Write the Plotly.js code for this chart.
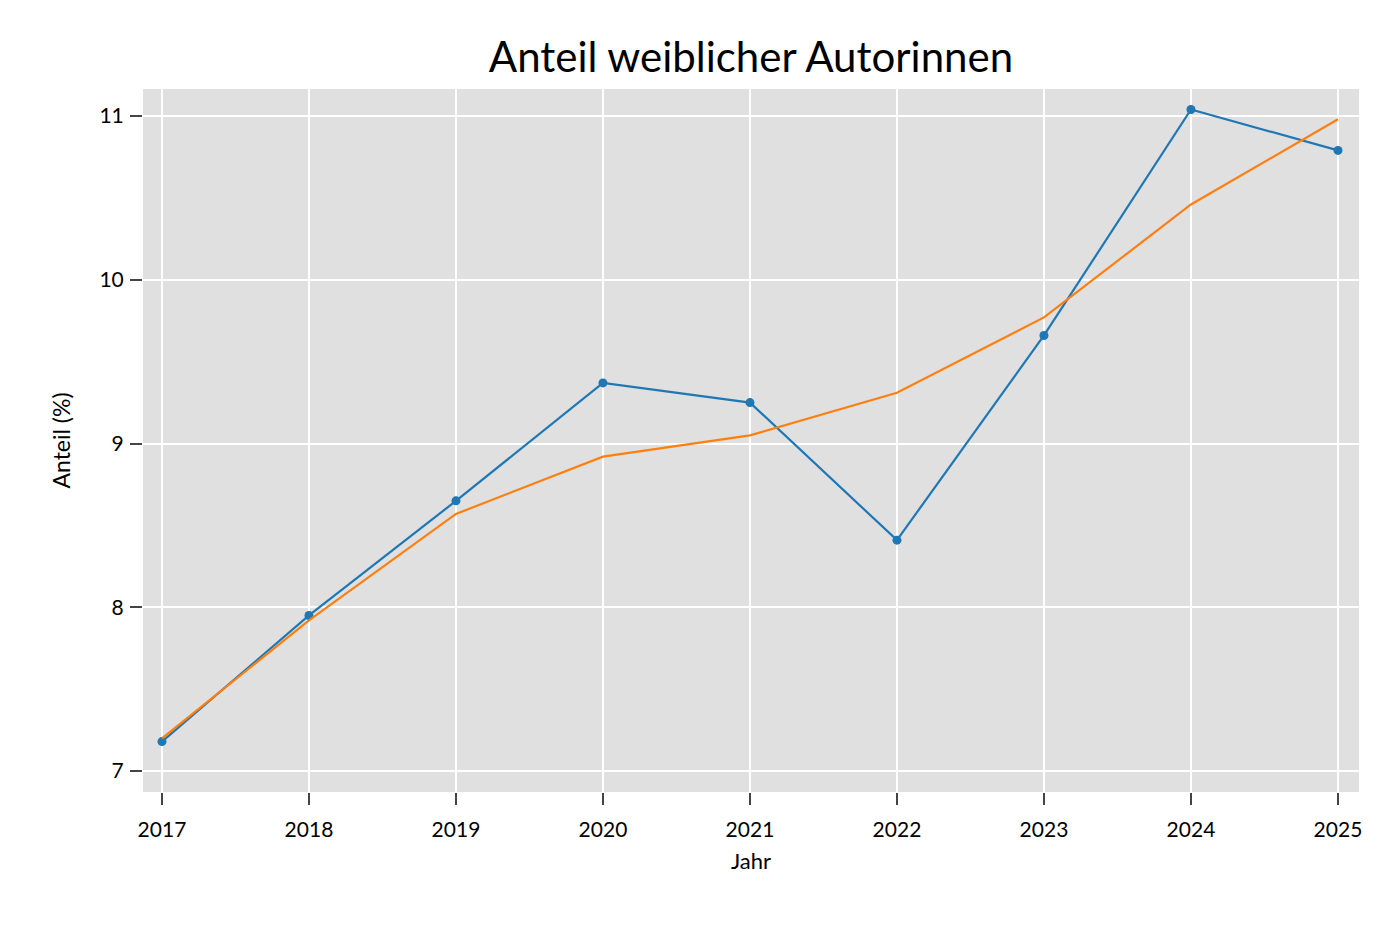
<!DOCTYPE html>
<html>
<head>
<meta charset="utf-8">
<script src="https://cdn.plot.ly/plotly-3.0.1.min.js"></script>
<style>body{margin:0;padding:0;background:#fff;} #chart{width:1392px;height:928px;}</style>
</head>
<body>
<div id="chart"></div>
<script>
const years = [2017, 2018, 2019, 2020, 2021, 2022, 2023, 2024, 2025];
const anteil = [7.18, 7.95, 8.65, 9.37, 9.25, 8.41, 9.66, 11.04, 10.79];
const trend = [7.20, 7.92, 8.57, 8.92, 9.05, 9.31, 9.77, 10.46, 10.98];

const fontFam = 'Lato, "Noto Sans", sans-serif';
const data = [
  {x: years, y: anteil, type: 'scatter', mode: 'lines+markers',
   line: {color: '#1f77b4', width: 2.2}, marker: {color: '#1f77b4', size: 9}, showlegend: false},
  {x: years, y: trend, type: 'scatter', mode: 'lines',
   line: {color: '#ff7f0e', width: 2.2}, showlegend: false}
];
const layout = {
  width: 1392, height: 928,
  margin: {l: 143, r: 33, t: 89, b: 136},
  paper_bgcolor: '#ffffff', plot_bgcolor: '#e0e0e0',
  font: {family: fontFam, color: '#000', size: 20},
  title: {text: 'Anteil weiblicher Autorinnen', xref: 'paper', x: 0.5, xanchor: 'center', yref: 'container', y: 0.9386, yanchor: 'middle', font: {size: 42, family: fontFam}},
  xaxis: {
    range: [2016.871, 2025.143], tickvals: years, ticktext: years.map(String),
    showgrid: true, gridcolor: '#ffffff', gridwidth: 2, zeroline: false,
    ticks: 'outside', ticklen: 12, tickwidth: 2, tickcolor: '#444',
    tickfont: {size: 21}, showline: false, ticklabelstandoff: 7,
    title: {text: 'Jahr', font: {size: 22}, standoff: 13}
  },
  yaxis: {
    range: [6.872, 11.165], tickvals: [7, 8, 9, 10, 11],
    showgrid: true, gridcolor: '#ffffff', gridwidth: 2, zeroline: false,
    ticks: 'outside', ticklen: 12, tickwidth: 2, tickcolor: '#444',
    tickfont: {size: 21}, showline: false, ticklabelstandoff: 2,
    title: {text: 'Anteil (%)', font: {size: 23}, standoff: 22}
  }
};
Plotly.newPlot('chart', data, layout, {displayModeBar: false});
</script>
</body>
</html>
